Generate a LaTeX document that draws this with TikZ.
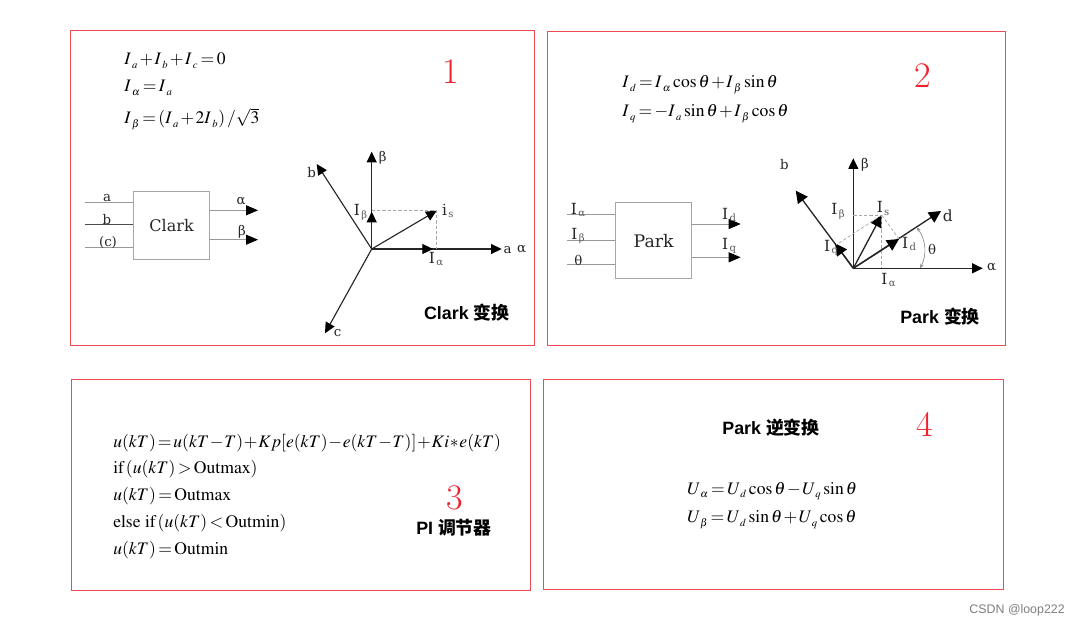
\documentclass[tikz,border=0pt]{standalone}
\usepackage{mathptmx}
\usepackage[no-math]{fontspec}
\setmainfont{Liberation Serif}
\setsansfont{Liberation Sans}
\newfontfamily\cjk{Noto Sans CJK SC}
\newfontfamily\lmr{Latin Modern Roman}
\newfontfamily\slab{DejaVu Serif}
\usetikzlibrary{arrows.meta}
\definecolor{pan}{HTML}{EE4A52}
\definecolor{numred}{HTML}{F0202A}
\DeclareMathSizes{13.2}{13.2}{8}{6}
\newcommand\Ss[2]{#1_{\lower1pt\hbox{$\scriptstyle\mkern4mu #2$}}}
\newcommand\Us[2]{#1_{\lower1pt\hbox{$\scriptstyle\mkern3mu #2$}}}
\newcommand\eqf{\fontsize{13.2}{16}\selectfont\thickmuskip=2.5mu\medmuskip=1.5mu\thinmuskip=2mu}
\newcommand\lab[2]{{\fontsize{11.5}{13}\selectfont #1\kern1pt\raisebox{-1.6pt}{\fontsize{7.5}{8}\selectfont\color{black!65}#2}}}
\newcommand\ttl[2]{{\sffamily\bfseries #1 \cjk\bfseries #2}}
\tikzset{
  panel/.style={draw=pan,line width=0.75pt},
  eq/.style={anchor=base west,inner sep=0pt,font=\eqf},
  num/.style={inner sep=0pt,text=numred,font=\lmr\fontsize{27}{30}\selectfont},
  title/.style={inner sep=0pt,font=\fontsize{13.4}{15}\selectfont},
  sl/.style={inner sep=0pt,text=black!85,font=\slab\fontsize{10}{12}\selectfont},
  blockbox/.style={draw=black!35,line width=0.8pt,inner sep=0pt},
  wire/.style={draw=black!40,line width=0.6pt},
  darkwire/.style={draw=black!70,line width=0.8pt},
  outw/.style={draw=black!40,line width=0.7pt,-{Triangle[length=9pt,width=7.5pt,fill=black,color=black]}},
  vec/.style={draw=black!85,line width=0.85pt,-{Triangle[length=8pt,width=7.5pt,fill=black,color=black]}},
  vecp/.style={draw=black!85,line width=1pt,-{Triangle[length=9pt,width=9pt,fill=black,color=black]}},
  dsh/.style={draw=black!35,line width=0.5pt,dash pattern=on 2.5pt off 1.5pt},
  angarc/.style={draw=black!45,line width=0.5pt,{Stealth[length=3.5pt]}-{Stealth[length=3.5pt]}}
}
\begin{document}
\begin{tikzpicture}[x=0.75pt,y=-0.75pt]
\useasboundingbox (0,0) rectangle (1080,627);
\fill[white] (0,0) rectangle (1080,627);
% panels
\draw[panel] (70.5,30.5) rectangle (534.5,345.5);
\draw[panel] (547.5,31.5) rectangle (1005.5,345.5);
\draw[panel] (71.5,379.5) rectangle (530.5,590.5);
\draw[panel] (543.5,379.5) rectangle (1003.5,589.5);
% numbers
\node[num] (n1) at (450.5,72) {1};
\node[num] (n2) at (923,76) {2};
\node[num] (n3) at (455,498) {3};
\node[num] (n4) at (925,424) {4};
% panel 1 equations
\node[eq] (e11) at (124,64.5) {$\Ss{I}{a}+\Ss{I}{b}+\Ss{I}{c}=0$};
\node[eq] (e12) at (124,92) {$\Ss{I}{\alpha}=\Ss{I}{a}$};
\node[eq] (e13) at (124,124) {$\Ss{I}{\beta}=(\Ss{I}{a}+2\Ss{I}{b})\,/\sqrt{3}$};
% Clark block
\node[blockbox,minimum width=57pt,minimum height=51.2pt,font=\slab\fontsize{12}{14}\selectfont,text=black!85] (clark) at (171.6,225.2) {Clark};
\coordinate (ca) at (84.7,202.3);
\coordinate (cb) at (84.7,224.7);
\coordinate (cc) at (84.7,247.3);
\coordinate (cal) at (258,210.3);
\coordinate (cbe) at (258,239.7);
\draw[wire] (ca) -- (ca -| clark.west);
\draw[darkwire] (cb) -- (cb -| clark.west);
\draw[wire] (cc) -- (cc -| clark.west);
\draw[outw] (cal -| clark.east) -- (cal);
\draw[outw] (cbe -| clark.east) -- (cbe);
\node[sl] (la) at (107,198.5) {a};
\node[sl] (lb) at (107,220) {b};
\node[sl] (lc) at (108,242) {(c)};
\node[sl] (lal) at (241,201) {α};
\node[sl] (lbe) at (242,232) {β};
% Clark vectors
\coordinate (O) at (371.7,249);
\coordinate (Ob) at (371.7,151.7);
\coordinate (Ob2) at (316.7,164);
\coordinate (Oa) at (501.7,249);
\coordinate (Oc) at (325,333.3);
\coordinate (Ois) at (436.7,210.7);
\coordinate (Oib) at (371.7,211.7);
\coordinate (Oia) at (433,249);
\draw[vec] (O) -- (Ob);
\draw[vec] (O) -- (Ob2);
\draw[vec] (O) -- (Oa);
\draw[vec] (O) -- (Oc);
\draw[vec] (O) -- (Ois);
\draw[vec] (O) -- (Oib);
\draw[vec] (O) -- (Oia);
\draw[dsh] (Ob |- Ois) -- (Ois) -- (Ois |- O);
\node[sl] (vbeta) at (382.7,157.3) {β};
\node[sl] (vb) at (311.7,172.3) {b};
\node[sl] (vc) at (337.7,333.3) {c};
\node[sl] (va) at (507.7,250) {a};
\node[sl] (valpha) at (521.7,249) {α};
\node[sl] (vib) at (360.5,212.5) {\lab{I}{β}};
\node[sl] (vis) at (447.7,210.5) {\lab{i}{s}};
\node[sl] (via) at (436,259) {\lab{I}{α}};
\node[title] (t1) at (466.7,313) {\ttl{Clark}{变换}};
% panel 2 equations
\node[eq] (e21) at (622,87.3) {$\Ss{I}{d}=\Ss{I}{\alpha}\cos\theta+\Ss{I}{\beta}\sin\theta$};
\node[eq] (e22) at (622,116.7) {$\Ss{I}{q}=-\Ss{I}{a}\sin\theta+\Ss{I}{\beta}\cos\theta$};
% Park block
\node[blockbox,minimum width=57pt,minimum height=57.5pt,font=\slab\fontsize{13}{15}\selectfont,text=black!85] (park) at (653.7,240.6) {Park};
\coordinate (pa) at (567.3,214);
\coordinate (pb) at (567.3,240.3);
\coordinate (pc) at (567.3,264.7);
\coordinate (pd) at (740.7,224);
\coordinate (pq) at (740.7,257.3);
\draw[wire] (pa) -- (pa -| park.west);
\draw[wire] (pb) -- (pb -| park.west);
\draw[wire] (pc) -- (pc -| park.west);
\draw[outw] (pd -| park.east) -- (pd);
\draw[outw] (pq -| park.east) -- (pq);
\node[sl] (pla) at (578,210) {\lab{I}{α}};
\node[sl] (plb) at (578,236) {\lab{I}{β}};
\node[sl] (plt) at (578.3,260.7) {θ};
\node[sl] (pld) at (729,215) {\lab{I}{d}};
\node[sl] (plq) at (729,246) {\lab{I}{q}};
% Park vectors
\coordinate (P) at (853.3,268.3);
\coordinate (Pb) at (853.3,158.3);
\coordinate (Pb2) at (795.7,190.7);
\coordinate (Pa) at (982.7,268.3);
\coordinate (Pd) at (941,211);
\coordinate (Pis) at (881.7,215);
\coordinate (Piq) at (835,243.3);
\coordinate (Pid) at (899,239);
\coordinate (Pth1) at (920,268.3);
\coordinate (Pth2) at (916.7,227.3);
\draw[vec] (P) -- (Pb);
\draw[vecp] (P) -- (Pb2);
\draw[vec] (P) -- (Pa);
\draw[vecp] (P) -- (Pd);
\draw[vecp] (P) -- (Pis);
\draw[vecp] (P) -- (Piq);
\draw[vecp] (P) -- (Pid);
\draw[dsh] (Pb |- Pis) -- (Pis) -- (Pis |- P);
\draw[dsh] (Pis) -- (Pid);
\draw[dsh] (Pis) -- (836,245);
\draw[angarc] (Pth1) .. controls (927,255) and (926,240) .. (Pth2);
\node[sl] (wb) at (784.3,165) {b};
\node[sl] (wbeta) at (865,165) {β};
\node[sl] (wis) at (883,208.5) {\lab{I}{s}};
\node[sl] (wib) at (838,211.5) {\lab{I}{β}};
\node[sl] (wiq) at (831,248) {\lab{I}{q}};
\node[sl] (wid) at (909,244) {\lab{I}{d}};
\node[sl] (wth) at (932,249) {θ};
\node[sl] (walpha) at (991.7,267.3) {α};
\node[sl] (wia) at (888.5,280) {\lab{I}{α}};
\node[sl,font=\slab\fontsize{11.5}{13}\selectfont] (wd) at (947.7,216) {d};
\node[title] (t2) at (940,317) {\ttl{Park}{变换}};
% panel 3
\node[eq] (e31) at (113,447.3) {$\medmuskip=0.75mu\thickmuskip=2mu u(kT)=u(kT-T)+Kp[e(kT)-e(kT-T)]+Ki*e(kT)$};
\node[eq] (e32) at (113,473.3) {$\mathrm{if}\,(u(kT)>\mathrm{Outmax})$};
\node[eq] (e33) at (113,500.7) {$u(kT)=\mathrm{Outmax}$};
\node[eq] (e34) at (113,527.3) {$\mathrm{else\ if}\,(u(kT)<\mathrm{Outmin})$};
\node[eq] (e35) at (113,554) {$u(kT)=\mathrm{Outmin}$};
\node[title] (t3) at (454,528) {\ttl{PI}{调节器}};
% panel 4
\node[title] (t4) at (771,428) {\ttl{Park}{逆变换}};
\node[eq] (e41) at (687,494) {$\Us{U}{\alpha}=\Us{U}{d}\cos\theta-\Us{U}{q}\sin\theta$};
\node[eq] (e42) at (687,522.7) {$\Us{U}{\beta}=\Us{U}{d}\sin\theta+\Us{U}{q}\cos\theta$};
% watermark
\node[inner sep=0pt,anchor=east,text=black!50,font=\sffamily\fontsize{9.3}{11}\selectfont] (wm) at (1065,610.5) {CSDN @loop222};
\end{tikzpicture}
\end{document}
